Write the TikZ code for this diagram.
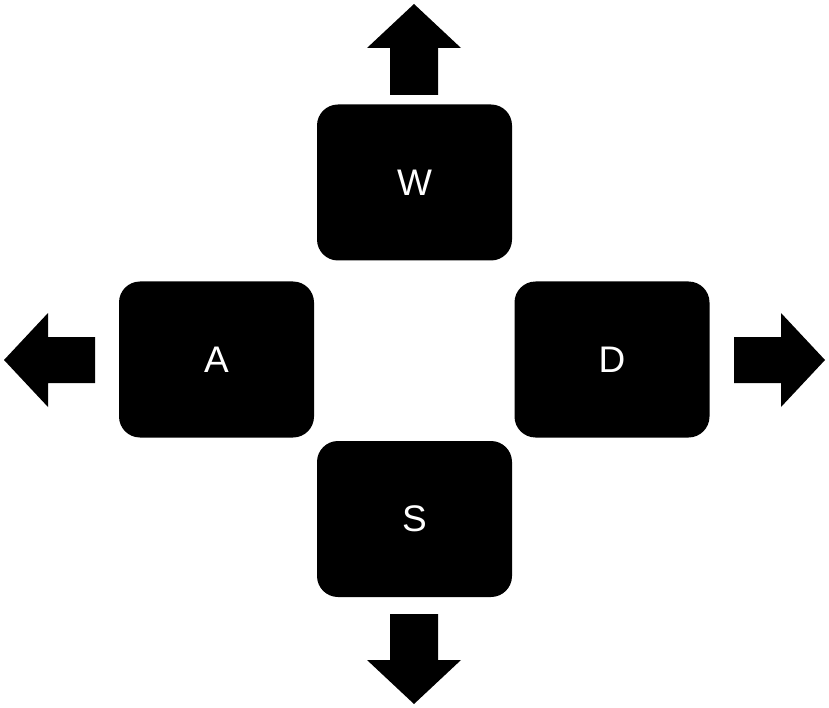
\documentclass[tikz,border=0pt]{standalone}
\usepackage{fontspec}
\setmainfont{Liberation Sans}
\begin{document}
\begin{tikzpicture}[x=1pt,y=-1pt,
  key/.style={fill=black,rounded corners=21pt,minimum width=195pt,minimum height=156pt,inner sep=0pt,text=white,font=\fontsize{37}{44}\selectfont},
  fatarrow/.style={fill=black}]
\useasboundingbox (0,0) rectangle (829,708);
\node[key] (W) at (414.5,182.5) {W};
\node[key] (A) at (216.5,359.5) {A};
\node[key] (D) at (612,359.5) {D};
\node[key] (S) at (414.5,519) {S};
% up arrow
\coordinate (upbase) at (414,95);
\fill[fatarrow] (390,95) -- (390,48) -- (367,48) -- (414,4) -- (461,48) -- (438,48) -- (438,95) -- cycle;
% down arrow
\fill[fatarrow] (390,614) -- (390,660) -- (367,660) -- (414,704) -- (461,660) -- (438,660) -- (438,614) -- cycle;
% left arrow
\fill[fatarrow] (95,337) -- (48,337) -- (48,313) -- (4,360) -- (48,407) -- (48,383) -- (95,383) -- cycle;
% right arrow
\fill[fatarrow] (734,337) -- (781,337) -- (781,313) -- (825,360) -- (781,407) -- (781,383) -- (734,383) -- cycle;
\end{tikzpicture}
\end{document}
